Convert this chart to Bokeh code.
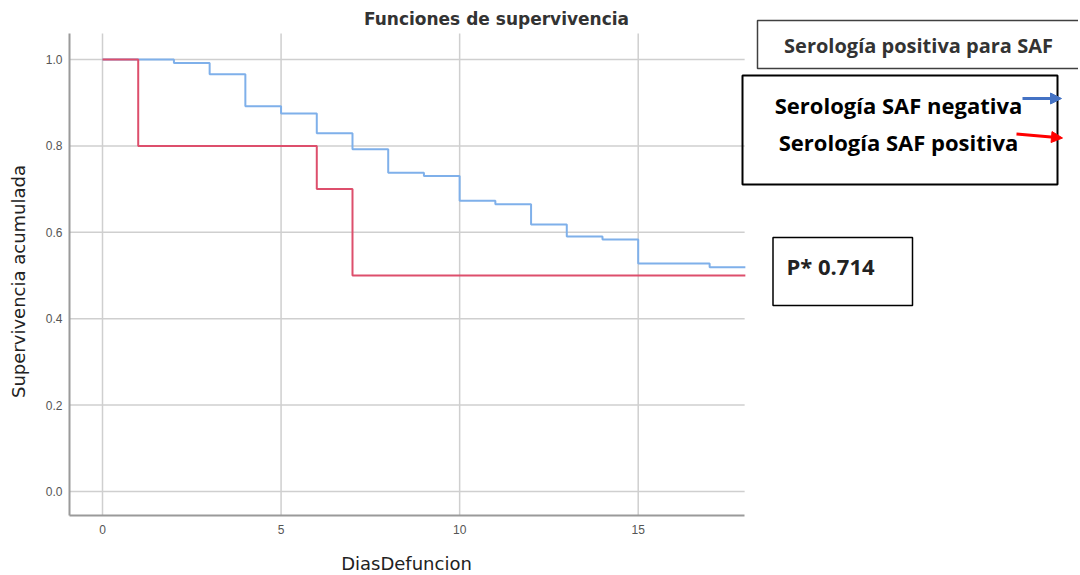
import math
from bokeh.plotting import figure
from bokeh.models import Range1d, FixedTicker, PrintfTickFormatter, Arrow, NormalHead
from bokeh.core.properties import value
from bokeh.embed import file_html
from bokeh.resources import INLINE

# --- data ---
blue_time = [0, 2, 3, 4, 5, 6, 7, 8, 9, 10, 11, 12, 13, 14, 15, 17, 18]
blue_surv = [1.0, 0.992, 0.966, 0.892, 0.875, 0.829, 0.792, 0.738, 0.730,
             0.673, 0.665, 0.618, 0.590, 0.583, 0.528, 0.519, 0.519]
red_time = [0, 1, 6, 7, 18]
red_surv = [1.0, 0.8, 0.7, 0.5, 0.5]
x_ticks = [0, 5, 10, 15]
y_ticks = [0.0, 0.2, 0.4, 0.6, 0.8, 1.0]

title_text = "Funciones de supervivencia"
x_label = "DiasDefuncion"
y_label = "Supervivencia acumulada"
box_title = "Serología positiva para SAF"
legend_neg = "Serología SAF negativa"
legend_pos = "Serología SAF positiva"
p_text = "P* 0.714"

# plot-area extents (data units) of the survival chart
X_LO, X_HI = -0.924, 17.98
Y_LO, Y_HI = -0.0556, 1.060

# layout: the frame covers the whole canvas (page pixels, no body margin)
W, H = 1078, 574
AX_LEFT, AX_BOTTOM = 69, 515      # page position of the chart's axes
PPU_X, PPU_Y = 35.714, 432.0
x_start = X_LO - AX_LEFT / PPU_X
x_end = x_start + W / PPU_X
y_start = Y_LO - (H - AX_BOTTOM) / PPU_Y
y_end = y_start + H / PPU_Y


def dx(px):
    return x_start + px / PPU_X


def dy(py):
    return y_start + (H - py) / PPU_Y


AXFONT = "DejaVu Sans"

p = figure(width=W, height=H, x_range=Range1d(x_start, x_end),
           y_range=Range1d(y_start, y_end), output_backend="svg",
           toolbar_location=None, title=None, min_border=0)
p.outline_line_color = None
p.background_fill_color = "white"
p.grid.visible = False

for ax in (p.xaxis, p.yaxis):
    ax.major_tick_line_color = None
    ax.minor_tick_line_color = None
    ax.major_tick_out = 0
    ax.major_tick_in = 0
    ax.minor_tick_out = 0
    ax.axis_line_color = "#9a9a9a"
    ax.axis_line_width = 2
    ax.major_label_text_font = "Liberation Sans"
    ax.major_label_text_font_size = "12px"
    ax.major_label_text_color = "#555555"

p.xaxis.fixed_location = Y_LO
p.yaxis.fixed_location = X_LO
p.xaxis.bounds = (X_LO, X_HI)
p.yaxis.bounds = (Y_LO, Y_HI)
p.xaxis.ticker = FixedTicker(ticks=x_ticks)
p.yaxis.ticker = FixedTicker(ticks=y_ticks)
p.yaxis.formatter = PrintfTickFormatter(format="%.1f")
p.xaxis.major_label_standoff = 9
p.yaxis.major_label_standoff = 7

# grid lines limited to the chart area
GRID = "#cfcfcf"
p.segment(x0=x_ticks, y0=[Y_LO] * len(x_ticks), x1=x_ticks,
          y1=[Y_HI] * len(x_ticks), line_color=GRID, line_width=1.5)
p.segment(x0=[X_LO] * len(y_ticks), y0=y_ticks, x1=[X_HI] * len(y_ticks),
          y1=y_ticks, line_color=GRID, line_width=1.5)

p.step(x=blue_time, y=blue_surv, mode="after", line_color="#7fb0ea",
       line_width=2)
p.step(x=red_time, y=red_surv, mode="after", line_color="#dd4f6c",
       line_width=2)

# chart title and axis titles
p.text(x=[dx(496)], y=[dy(18)], text=[title_text], text_align="center",
       text_baseline="middle", text_font=value(AXFONT),
       text_font_size="17px", text_font_style="bold", text_color="#333333")
p.text(x=[dx(406)], y=[dy(563)], text=[x_label], text_align="center",
       text_baseline="middle", text_font=value(AXFONT),
       text_font_size="18px", text_color="#222222")
p.text(x=[dx(18)], y=[dy(281)], text=[y_label], angle=math.pi / 2,
       text_align="center", text_baseline="middle", text_font=value(AXFONT),
       text_font_size="18px", text_color="#222222")

# --- right side annotations ---
p.quad(left=[dx(757)], right=[dx(1100)], top=[dy(20)], bottom=[dy(68)],
       fill_color=None, line_color="#404040", line_width=1.5)
p.text(x=[dx(918)], y=[dy(45)], text=[box_title], text_font=value("Open Sans"),
       text_font_style="bold", text_font_size="20px", text_align="center",
       text_baseline="middle", text_color="#333333")

p.quad(left=[dx(742)], right=[dx(1057)], top=[dy(75)], bottom=[dy(184)],
       fill_color=None, line_color="black", line_width=2)
p.text(x=[dx(898), dx(898)], y=[dy(104), dy(141)], text=[legend_neg, legend_pos],
       text_font=value("Open Sans"), text_font_style="bold",
       text_font_size="22px", text_align="center", text_baseline="middle",
       text_color="black")

p.add_layout(Arrow(end=NormalHead(size=11, fill_color="#4472c4",
                                  line_color="#4472c4"),
                   x_start=dx(1022), y_start=dy(98), x_end=dx(1061),
                   y_end=dy(98), line_color="#4472c4", line_width=3))
p.add_layout(Arrow(end=NormalHead(size=11, fill_color="#ff0000",
                                  line_color="#ff0000"),
                   x_start=dx(1016), y_start=dy(133.5), x_end=dx(1062),
                   y_end=dy(137.5), line_color="#ff0000", line_width=3))

p.quad(left=[dx(772.5)], right=[dx(912)], top=[dy(237)], bottom=[dy(305)],
       fill_color=None, line_color="black", line_width=1.5)
p.text(x=[dx(786)], y=[dy(265)], text=[p_text], text_font=value("Open Sans"),
       text_font_style="bold", text_font_size="22px", text_align="left",
       text_baseline="middle", text_color="#222222")

open("out.html", "w").write(file_html(p, INLINE))
